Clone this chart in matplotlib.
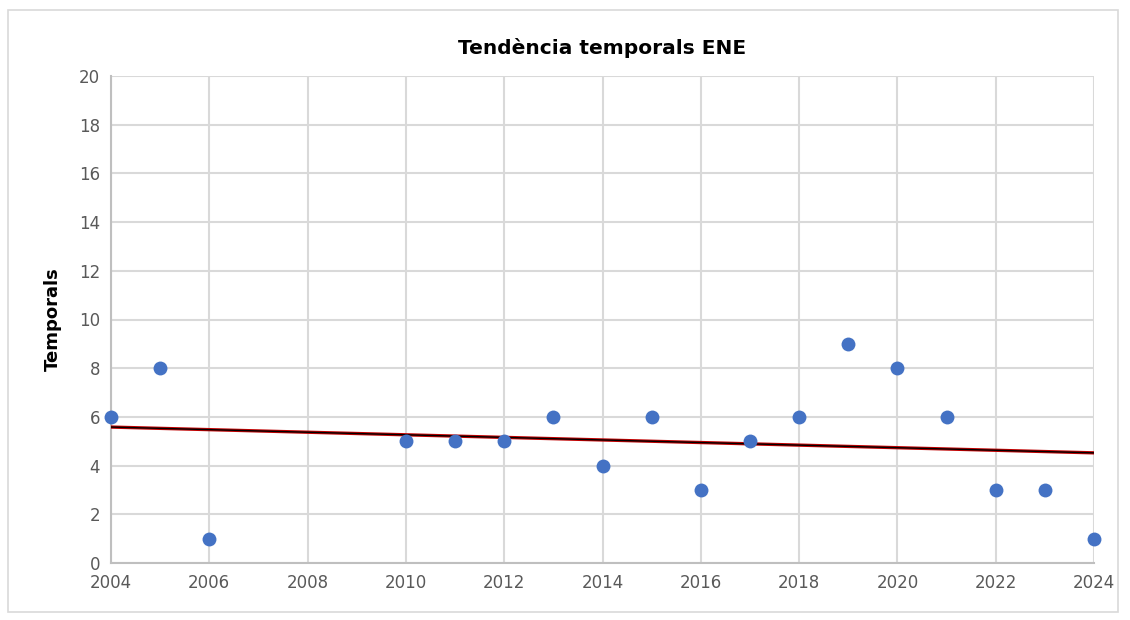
import numpy as np
import matplotlib.pyplot as plt
from matplotlib.patches import Rectangle

# dades: temporals ENE per any
anys = [2004, 2005, 2006, 2010, 2011, 2012, 2013, 2014, 2015,
        2016, 2017, 2018, 2019, 2020, 2021, 2022, 2023, 2024]
temporals = [6, 8, 1, 5, 5, 5, 6, 4, 6, 3, 5, 6, 9, 8, 6, 3, 3, 1]

x = np.array(anys)
y = np.array(temporals)

# tendència lineal
m, b = np.polyfit(x, y, 1)
xt = np.array([x.min(), x.max()])
yt = m * xt + b

plt.rcParams['font.family'] = ['DejaVu Sans']
fig = plt.figure(figsize=(11.3, 6.2), dpi=100)
ax = fig.add_axes([111/1130, 1 - 563/620, (1094 - 111)/1130, (563 - 76)/620])

ax.plot(xt, yt, color='#c00000', lw=2.4, zorder=3)
ax.plot(xt, yt, color='black', lw=1.0, zorder=4)
ax.scatter(x, y, s=100, color='#4472c4', zorder=5, clip_on=False, linewidths=0)

ax.set_xlim(2004, 2024)
ax.set_ylim(0, 20)
ax.set_xticks(np.arange(2004, 2025, 2))
ax.set_yticks(np.arange(0, 21, 2))
ax.grid(True, color='#d9d9d9', lw=1.5)
ax.set_axisbelow(True)
for s in ['top', 'right']:
    ax.spines[s].set_visible(False)
for s in ['left', 'bottom']:
    ax.spines[s].set_color('#bfbfbf')
    ax.spines[s].set_linewidth(1.5)
ax.tick_params(length=0, labelsize=12, colors='#595959', pad=8)

ax.set_title('Tendència temporals ENE', fontsize=14.5, fontweight='bold', pad=16)
ax.set_ylabel('Temporals', fontsize=13, fontweight='bold', labelpad=12)

fig.patches.append(Rectangle((8/1130, 8/620), 1110/1130, 602/620,
                             transform=fig.transFigure, fill=False,
                             edgecolor='#d9d9d9', lw=1.2))

fig.savefig('out.png', dpi=100)
